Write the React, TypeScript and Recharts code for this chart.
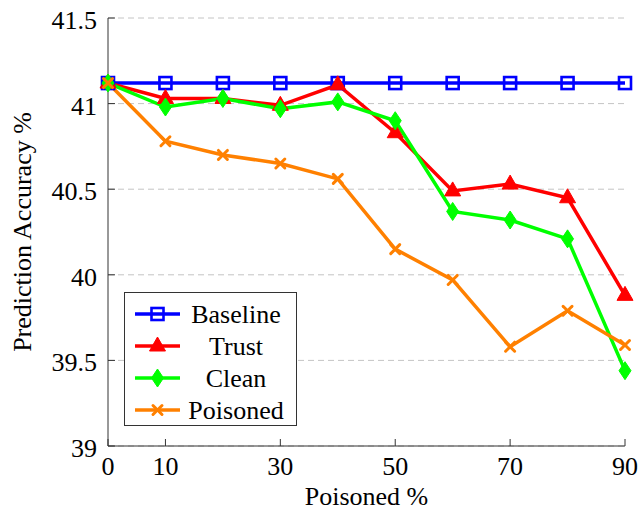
import React from 'react';
import { LineChart, Line, XAxis, YAxis, CartesianGrid, Legend, Label } from 'recharts';

const poisonedPct = [0, 10, 20, 30, 40, 50, 60, 70, 80, 90];
const baseline = [41.12, 41.12, 41.12, 41.12, 41.12, 41.12, 41.12, 41.12, 41.12, 41.12];
const trust = [41.12, 41.03, 41.03, 40.99, 41.11, 40.83, 40.49, 40.53, 40.45, 39.88];
const clean = [41.12, 40.98, 41.03, 40.97, 41.01, 40.9, 40.37, 40.32, 40.21, 39.44];
const poisoned = [41.12, 40.78, 40.7, 40.65, 40.56, 40.15, 39.97, 39.58, 39.79, 39.59];

const xTicks = [0, 10, 30, 50, 70, 90];
const yTicks = [39, 39.5, 40, 40.5, 41, 41.5];
const seriesNames = ['Baseline', 'Trust', 'Clean', 'Poisoned'];

const data = poisonedPct.map((p, i) => ({
  p,
  Baseline: baseline[i],
  Trust: trust[i],
  Clean: clean[i],
  Poisoned: poisoned[i],
}));

const FONT = 'Liberation Serif, Times New Roman, serif';
const AXIS = '#333333';
const COLORS: Record<string, string> = {
  Baseline: '#0000ff',
  Trust: '#ff0000',
  Clean: '#00ff00',
  Poisoned: '#ff8000',
};
const TICK_LEN = 7;
const textStyle = { fontFamily: FONT, fontSize: 26 };

function Marker({ name, cx, cy }: { name: string; cx: number; cy: number }) {
  const c = COLORS[name];
  if (name === 'Baseline') {
    return <rect x={cx - 6} y={cy - 6} width={12} height={12} fill="none" stroke={c} strokeWidth={2.6} />;
  }
  if (name === 'Trust') {
    return <polygon points={`${cx},${cy - 9} ${cx - 8},${cy + 5} ${cx + 8},${cy + 5}`} fill={c} stroke={c} strokeWidth={1} />;
  }
  if (name === 'Clean') {
    return <polygon points={`${cx},${cy - 9} ${cx + 6},${cy} ${cx},${cy + 9} ${cx - 6},${cy}`} fill={c} stroke={c} strokeWidth={1} />;
  }
  return (
    <g stroke={c} strokeWidth={3} strokeLinecap="round">
      <line x1={cx - 4.5} y1={cy - 4.5} x2={cx + 4.5} y2={cy + 4.5} />
      <line x1={cx - 4.5} y1={cy + 4.5} x2={cx + 4.5} y2={cy - 4.5} />
    </g>
  );
}

const makeDot = (name: string) => (props: any) => {
  const { cx, cy, index } = props;
  if (cx == null || cy == null) return <g key={`${name}-${index}`} />;
  return (
    <g key={`${name}-${index}`}>
      <Marker name={name} cx={cx} cy={cy} />
    </g>
  );
};

const BottomTick = (props: any) => {
  const { x, y, payload } = props;
  const axisY = y - 11;
  return (
    <g>
      <line x1={x} y1={axisY} x2={x} y2={axisY - TICK_LEN} stroke={AXIS} strokeWidth={1} />
      <text x={x} y={y} dy={18} textAnchor="middle" style={textStyle} fill="#000">
        {payload.value}
      </text>
    </g>
  );
};

const LeftTick = (props: any) => {
  const { x, y, payload } = props;
  const axisX = x + 11;
  return (
    <g>
      <line x1={axisX} y1={y} x2={axisX + TICK_LEN} y2={y} stroke={AXIS} strokeWidth={1} />
      <text x={x} y={y} dy={11} textAnchor="end" style={textStyle} fill="#000">
        {payload.value}
      </text>
    </g>
  );
};

const RightTick = (props: any) => {
  const { x, y } = props;
  return <line x1={x} y1={y} x2={x - TICK_LEN} y2={y} stroke={AXIS} strokeWidth={1} />;
};

const TopTick = (props: any) => {
  const { x, y } = props;
  return <line x1={x} y1={y} x2={x} y2={y + TICK_LEN} stroke={AXIS} strokeWidth={1} />;
};

const LegendBox = () => {
  const w = 173;
  const h = 134;
  return (
    <svg width={w} height={h} style={{ display: 'block' }}>
      <rect x={0.5} y={0.5} width={w - 1} height={h - 1} fill="#fff" stroke={AXIS} strokeWidth={1} />
      {seriesNames.map((name, i) => {
        const cy = 22 + i * 32;
        return (
          <g key={name}>
            <line x1={11} y1={cy} x2={56} y2={cy} stroke={COLORS[name]} strokeWidth={3.5} />
            <Marker name={name} cx={33.5} cy={cy} />
            <text x={112} y={cy} dy={9} textAnchor="middle" style={textStyle} fill="#000">
              {name}
            </text>
          </g>
        );
      })}
    </svg>
  );
};

export default function App() {
  return (
    <div style={{ position: 'absolute', left: 0, top: 0, background: '#fff', fontFamily: FONT }}>
      <LineChart width={639} height={512} data={data} margin={{ top: 18, right: 14, bottom: 0, left: 0 }}>
        <CartesianGrid vertical={false} stroke="#c4c4c4" strokeDasharray="6 4" xAxisId={0} yAxisId={0} />
        <XAxis
          xAxisId={0}
          dataKey="p"
          type="number"
          domain={[0, 90]}
          ticks={xTicks}
          height={66}
          tickSize={0}
          tickMargin={11}
          tick={BottomTick}
          axisLine={{ stroke: AXIS }}
          interval={0}
        >
          <Label
            content={(props: any) => {
              const vb = props.viewBox || { x: 108, y: 446, width: 517, height: 66 };
              return (
                <text x={vb.x + vb.width / 2} y={vb.y + 59} textAnchor="middle" style={textStyle} fill="#000">
                  Poisoned %
                </text>
              );
            }}
          />
        </XAxis>
        <XAxis
          xAxisId="top"
          orientation="top"
          type="number"
          domain={[0, 90]}
          ticks={xTicks}
          height={0}
          tickSize={0}
          tickMargin={0}
          tick={TopTick}
          axisLine={{ stroke: AXIS }}
          interval={0}
        />
        <YAxis
          yAxisId={0}
          type="number"
          domain={[39, 41.5]}
          ticks={yTicks}
          width={108}
          tickSize={0}
          tickMargin={11}
          tick={LeftTick}
          axisLine={{ stroke: AXIS }}
          interval={0}
        >
          <Label
            content={(props: any) => {
              const vb = props.viewBox || { x: 0, y: 18, width: 108, height: 428 };
              const cx = vb.x + 31;
              const cy = vb.y + vb.height / 2;
              return (
                <text
                  x={cx}
                  y={cy}
                  textAnchor="middle"
                  style={textStyle}
                  fill="#000"
                  transform={`rotate(-90, ${cx}, ${cy})`}
                >
                  Prediction Accuracy %
                </text>
              );
            }}
          />
        </YAxis>
        <YAxis
          yAxisId="right"
          orientation="right"
          type="number"
          domain={[39, 41.5]}
          ticks={yTicks}
          width={0}
          tickSize={0}
          tickMargin={0}
          tick={RightTick}
          axisLine={{ stroke: AXIS }}
          interval={0}
        />
        {seriesNames.map((name) => (
          <Line
            key={name}
            xAxisId={0}
            yAxisId={0}
            type="linear"
            dataKey={name}
            stroke={COLORS[name]}
            strokeWidth={3.5}
            dot={makeDot(name)}
            activeDot={false}
            isAnimationActive={false}
          />
        ))}
        <Legend
          layout="horizontal"
          verticalAlign="middle"
          align="center"
          wrapperStyle={{ left: 124, top: 292, width: 173, height: 134 }}
          content={() => <LegendBox />}
        />
      </LineChart>
    </div>
  );
}
